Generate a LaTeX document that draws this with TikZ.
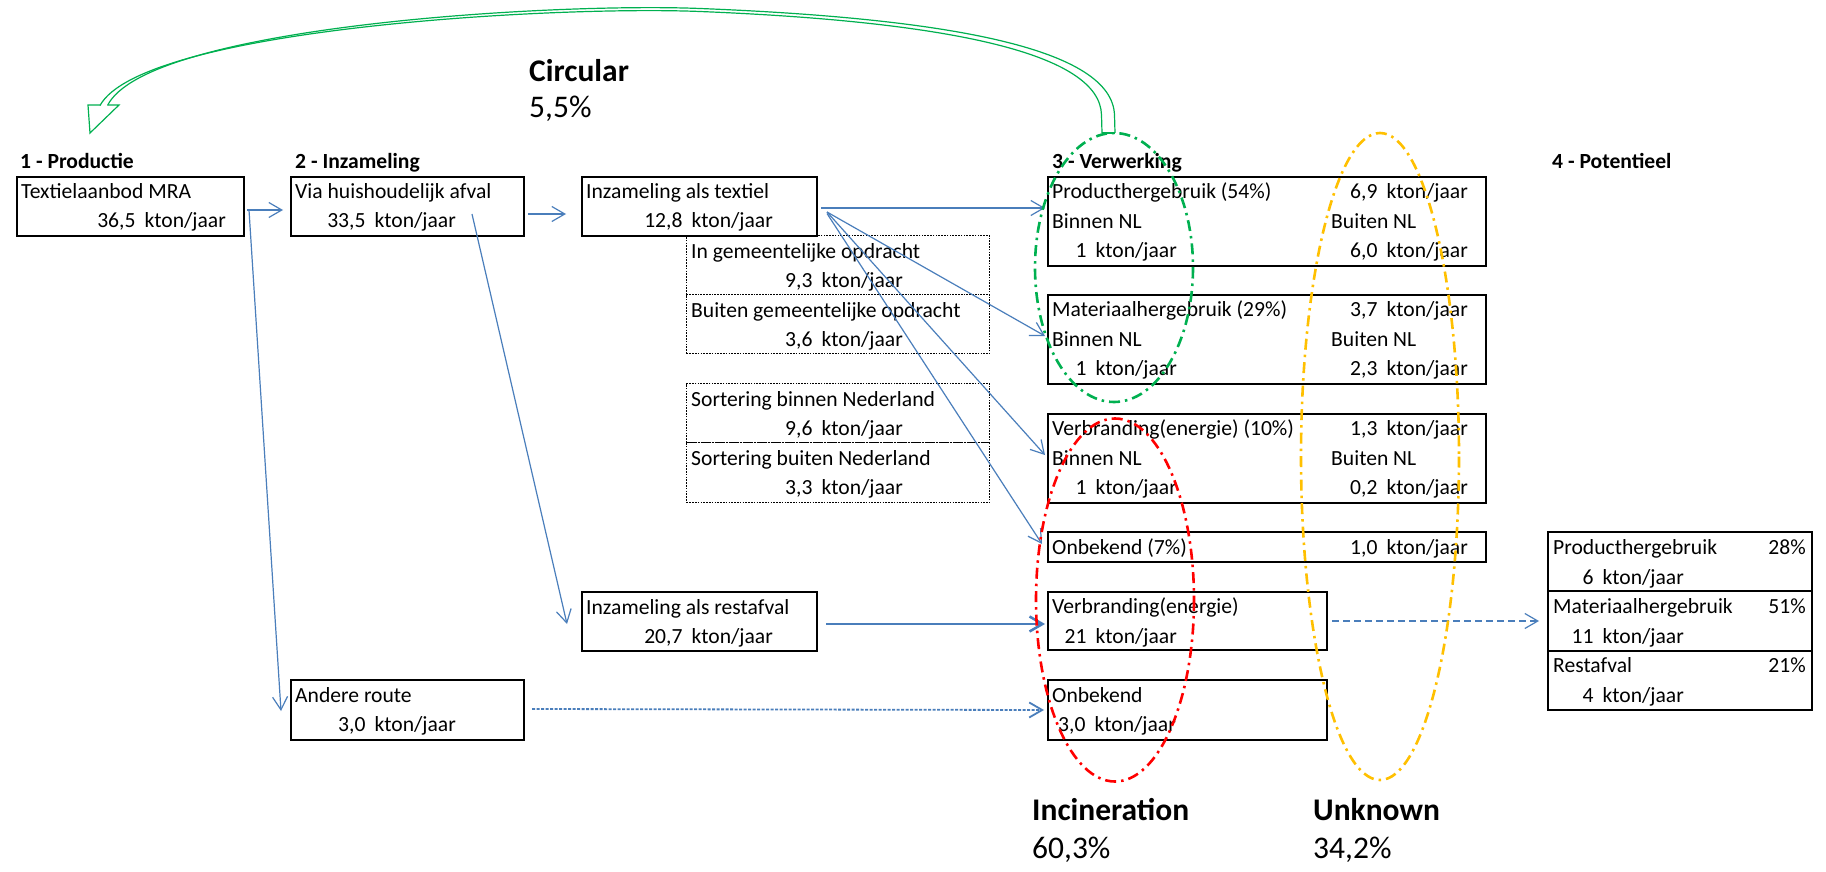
\documentclass[tikz,border=0pt]{standalone}
\usepackage{fontspec}
\setmainfont{Carlito}
\usetikzlibrary{arrows.meta,calc}

\definecolor{flowblue}{RGB}{74,126,187}
\definecolor{circgreen}{RGB}{0,176,80}
\definecolor{incred}{RGB}{255,0,0}
\definecolor{unkorange}{RGB}{255,192,0}

\newcommand{\kt}[1]{#1\hspace{0.42em}kton/jaar}

\begin{document}
\begin{tikzpicture}[x=1pt, y=-1pt,
	box/.style={draw, line width=2pt, inner sep=0pt, anchor=north west},
	dotbox/.style={draw, line width=1.1pt, dash pattern=on 1.6pt off 1.2pt, inner sep=0pt, anchor=north west},
	txt/.style={inner sep=0pt, font=\fontsize{21.6}{26}\selectfont},
	lt/.style={txt, anchor=base west},
	rt/.style={txt, anchor=base east},
	hdr/.style={lt, font=\fontsize{21.6}{26}\selectfont\bfseries},
	big/.style={inner sep=0pt, anchor=base west, font=\fontsize{31.5}{36}\selectfont},
	flow/.style={draw=flowblue, line width=1.2pt, -{Straight Barb[length=13pt,width=15pt]}},
	ring/.style={line width=2.6pt, dash pattern=on 11pt off 5pt on 2.5pt off 5pt},
	circ/.style={draw=circgreen, line width=1.2pt}]
			%%%%% START %%%%%
			
			\fill[white] (0,0) rectangle (1826,872);
			\useasboundingbox (0,0) rectangle (1826,872);
			
			% kolomkoppen
			\node[hdr] (h1) at (20,168) {1 - Productie};
			\node[hdr] (h2) at (295,168) {2 - Inzameling};
			\node[hdr] (h3) at (1052,168) {3 - Verwerking};
			\node[hdr] (h4) at (1552,168) {4 - Potentieel};
			
			% 1 - productie
			\node[box, minimum width=227pt, minimum height=59pt] (prod) at (16,176) {};
			\node[lt] (prodA) at (21,198) {Textielaanbod MRA};
			\node[rt] (prodB) at (226,227) {\kt{36,5}};
			
			% 2 - inzameling
			\node[box, minimum width=233pt, minimum height=59pt] (via) at (290,176) {};
			\node[lt] (viaA) at (295,198) {Via huishoudelijk afval};
			\node[rt] (viaB) at (456,227) {\kt{33,5}};
			
			\node[box, minimum width=233pt, minimum height=60pt] (andere) at (290,679) {};
			\node[lt] (andA) at (295,702) {Andere route};
			\node[rt] (andB) at (456,731) {\kt{3,0}};
			
			\node[box, minimum width=235pt, minimum height=59pt] (textiel) at (581,176) {};
			\node[lt] (texA) at (586,198) {Inzameling als textiel};
			\node[rt] (texB) at (773,227) {\kt{12,8}};
			
			\node[box, minimum width=235pt, minimum height=59pt] (restafval) at (581,591) {};
			\node[lt] (resA) at (586,614) {Inzameling als restafval};
			\node[rt] (resB) at (773,643) {\kt{20,7}};
			
			\node[dotbox, minimum width=303pt, minimum height=59pt] (gem) at (686,235) {};
			\node[lt] (gemA) at (691,258) {In gemeentelijke opdracht};
			\node[rt] (gemB) at (903,287) {\kt{9,3}};
			\node[dotbox, minimum width=303pt, minimum height=59pt] (bgem) at (686,294) {};
			\node[lt] (bgemA) at (691,317) {Buiten gemeentelijke opdracht};
			\node[rt] (bgemB) at (903,346) {\kt{3,6}};
			
			\node[dotbox, minimum width=303pt, minimum height=59pt] (sbin) at (686,383) {};
			\node[lt] (sbinA) at (691,406) {Sortering binnen Nederland};
			\node[rt] (sbinB) at (903,435) {\kt{9,6}};
			\node[dotbox, minimum width=303pt, minimum height=60pt] (sbui) at (686,442) {};
			\node[lt] (sbuiA) at (691,465) {Sortering buiten Nederland};
			\node[rt] (sbuiB) at (903,494) {\kt{3,3}};
			
			% 3 - verwerking
			\node[box, minimum width=438pt, minimum height=89pt] (prodh) at (1047,176) {};
			\node[lt] (prodhA) at (1052,198) {Producthergebruik (54\%)};
			\node[rt] (prodhB) at (1468,198) {\kt{6,9}};
			\node[lt] (prodhC) at (1052,228) {Binnen NL};
			\node[lt] (prodhD) at (1331,228) {Buiten NL};
			\node[rt] (prodhE) at (1177,257) {\kt{1}};
			\node[rt] (prodhF) at (1468,257) {\kt{6,0}};
			
			\node[box, minimum width=438pt, minimum height=89pt] (mat) at (1047,294) {};
			\node[lt] (matA) at (1052,316) {Materiaalhergebruik (29\%)};
			\node[rt] (matB) at (1468,316) {\kt{3,7}};
			\node[lt] (matC) at (1052,346) {Binnen NL};
			\node[lt] (matD) at (1331,346) {Buiten NL};
			\node[rt] (matE) at (1177,375) {\kt{1}};
			\node[rt] (matF) at (1468,375) {\kt{2,3}};
			
			\node[box, minimum width=438pt, minimum height=89pt] (verb) at (1047,413) {};
			\node[lt] (verbA) at (1052,435) {Verbranding(energie) (10\%)};
			\node[rt] (verbB) at (1468,435) {\kt{1,3}};
			\node[lt] (verbC) at (1052,465) {Binnen NL};
			\node[lt] (verbD) at (1331,465) {Buiten NL};
			\node[rt] (verbE1) at (1177,494) {\kt{1}};
			\node[rt] (verbF) at (1468,494) {\kt{0,2}};
			
			\node[box, minimum width=438pt, minimum height=30pt] (onb7) at (1047,531) {};
			\node[lt] (onb7A) at (1052,554) {Onbekend (7\%)};
			\node[rt] (onb7B) at (1468,554) {\kt{1,0}};
			
			\node[box, minimum width=279pt, minimum height=58pt] (verbE) at (1047,591) {};
			\node[lt] (verbEA) at (1052,613) {Verbranding(energie)};
			\node[rt] (verbEB) at (1177,643) {\kt{21}};
			
			\node[box, minimum width=279pt, minimum height=60pt] (onb) at (1047,679) {};
			\node[lt] (onbA) at (1052,702) {Onbekend};
			\node[rt] (onbB) at (1176,731) {\kt{3,0}};
			
			% 4 - potentieel
			\node[box, minimum width=264pt, minimum height=59pt] (pot1) at (1547,531) {};
			\node[lt] (pot1A) at (1553,554) {Producthergebruik};
			\node[rt] (pot1B) at (1806,554) {28\%};
			\node[rt] (pot1C) at (1684,584) {\kt{6}};
			\node[box, minimum width=264pt, minimum height=60pt] (pot2) at (1547,590) {};
			\node[lt] (pot2A) at (1553,613) {Materiaalhergebruik};
			\node[rt] (pot2B) at (1806,613) {51\%};
			\node[rt] (pot2C) at (1684,643) {\kt{11}};
			\node[box, minimum width=264pt, minimum height=59pt] (pot3) at (1547,650) {};
			\node[lt] (pot3A) at (1553,672) {Restafval};
			\node[rt] (pot3B) at (1806,672) {21\%};
			\node[rt] (pot3C) at (1684,702) {\kt{4}};
			
			% stromen
			\draw[flow] ([xshift=2pt,yshift=-3.5pt]prod.east) -- ([xshift=-7pt,yshift=-3.5pt]via.west);
			\draw[flow] ([xshift=4pt,yshift=-3.5pt]prod.east) -- ([xshift=-9pt,yshift=-1pt]andere.west);
			\draw[flow] ([xshift=3pt,yshift=-7.5pt]via.east) -- ([xshift=-15pt,yshift=-7.5pt]textiel.west);
			\draw[flow] ([xshift=64.5pt,yshift=-7.5pt]via.center) -- ([xshift=-14pt,yshift=-2.5pt]restafval.west);
			\draw[flow] ([xshift=3pt,yshift=-1.5pt]textiel.east) -- ([xshift=-2pt,yshift=13.5pt]prodh.west);
			\draw[flow] ([xshift=9pt,yshift=-5.5pt]textiel.east) -- ([xshift=-2pt,yshift=3.5pt]mat.west);
			\draw[flow] ([xshift=9pt,yshift=-5.5pt]textiel.east) -- ([xshift=-2pt,yshift=3.5pt]verb.west);
			\draw[flow] ([xshift=9pt,yshift=-7pt]textiel.east) -- ([xshift=-5pt,yshift=3pt]onb7.west);
			\draw[flow, line width=2.5pt] ([xshift=8pt,yshift=-2.5pt]restafval.east) -- ([xshift=-2pt,yshift=-3pt]verbE.west);
			\draw[flow, line width=1.8pt, dash pattern=on 3pt off 1.5pt] ([xshift=7pt,yshift=1pt]andere.east) -- ([xshift=-3pt]onb.west);
			\draw[flow, dash pattern=on 7pt off 4pt] ([xshift=4pt]verbE.east) -- ([xshift=-8pt]pot2.west);
			
			% ringen
			\draw[ring, draw=circgreen] (1114,267.5) ellipse [x radius=79, y radius=134.5];
			\draw[ring, draw=incred] (1115,600) ellipse [x radius=79, y radius=181.5];
			\draw[ring, draw=unkorange] (1380,456.5) ellipse [x radius=79, y radius=323.5];
			
			% kringloop pijl
			\coordinate (tail) at (1108.5,133);
			\coordinate (tip) at (90,133);
			\draw[circ, fill=white] (88,105) -- (119,105) -- (tip) -- cycle;
			\fill[white] (1115,133) -- (1114.5,115) .. controls (1112,49) and (952,18.5) .. (700,8.5) .. controls (550,2.5) and (147,26.5) .. (107.5,106.5)
				-- (100,106.5) .. controls (142,29) and (550,5.5) .. (700,11.5) .. controls (948,21.5) and (1100,53) .. (1101.5,115) -- (1102,133) -- cycle;
			\draw[circ] (1115,133) -- (1114.5,115) .. controls (1112,49) and (952,18.5) .. (700,8.5) .. controls (550,2.5) and (147,26.5) .. (107.5,105.5);
			\draw[circ] (1102,133) -- (1101.5,115) .. controls (1100,53) and (948,21.5) .. (700,11.5) .. controls (550,5.5) and (142,29) .. (100,105.5);
			\draw[circ] ([xshift=-6.5pt]tail) -- ([xshift=6.5pt]tail);
			
			\node[big, font=\fontsize{31.5}{36}\selectfont\bfseries] (circT) at (529,82) {Circular};
			\node[big] (circP) at (529,118) {5,5\%};
			\node[big, font=\fontsize{31.5}{36}\selectfont\bfseries] (incT) at (1032,820) {Incineration};
			\node[big] (incP) at (1032,858) {60,3\%};
			\node[big, font=\fontsize{31.5}{36}\selectfont\bfseries] (unkT) at (1313,820) {Unknown};
			\node[big] (unkP) at (1313,858) {34,2\%};
			
			%%%%% END %%%%%
\end{tikzpicture}
\end{document}
